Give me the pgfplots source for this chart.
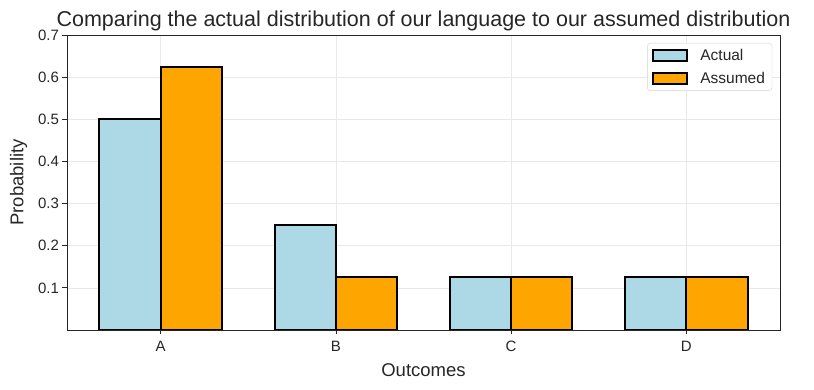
\documentclass[border=0pt]{standalone}
\usepackage{pgfplots}
\pgfplotsset{compat=1.18}
\usepackage{fontspec}
\setmainfont{Liberation Sans}
\definecolor{lightblue}{HTML}{ADD8E6}
\definecolor{orangec}{HTML}{FFA500}
\definecolor{txt}{HTML}{262626}
\definecolor{gridc}{HTML}{E8E8E8}
\begin{document}
\begin{tikzpicture}
\begin{axis}[
  scale only axis,
  width=713pt, height=295pt,
  xmin=-0.535, xmax=3.535,
  ymin=0, ymax=0.7,
  xtick={0,1,2,3},
  xticklabels={A,B,C,D},
  ytick={0.1,0.2,0.3,0.4,0.5,0.6,0.7},
  yticklabel style={/pgf/number format/fixed,/pgf/number format/precision=1},
  /pgf/number format/assume math mode=true,
  tick label style={font=\fontsize{15}{17}\selectfont, text=txt},
  xticklabel style={yshift=-3pt},
  xlabel={Outcomes}, ylabel={Probability},
  label style={font=\fontsize{18.5}{20}\selectfont, text=txt},
  xlabel style={yshift=-5pt},
  ylabel style={yshift=4pt},
  title={Comparing the actual distribution of our language to our assumed distribution},
  title style={font=\fontsize{21.5}{24}\selectfont, text=txt, yshift=-5pt},
  grid=major, major grid style={gridc, line width=0.7pt},
  axis line style={txt, line width=0.8pt},
  tick align=outside, tick pos=left,
  major tick length=4.5pt,
  tick style={txt, line width=0.8pt},
  legend style={at={(0.989,0.973)}, anchor=north east, draw=gridc!80!gray, rounded corners=3pt, font=\fontsize{15.5}{17}\selectfont, text=txt, row sep=6pt, inner xsep=5pt, inner ysep=4pt},
  legend cell align=left,
  ybar, bar width=0.35,
]
\addplot[fill=lightblue, draw=black, line width=2pt, bar shift=-0.175,
  legend image code/.code={\draw[sharp corners, fill=lightblue, draw=black, line width=2pt] (0pt,-5.5pt) rectangle (34pt,5.5pt); \path (44pt,0pt);}]
  coordinates {(0,0.5) (1,0.25) (2,0.125) (3,0.125)};
\addplot[fill=orangec, draw=black, line width=2pt, bar shift=0.175,
  legend image code/.code={\draw[sharp corners, fill=orangec, draw=black, line width=2pt] (0pt,-5.5pt) rectangle (34pt,5.5pt); \path (44pt,0pt);}]
  coordinates {(0,0.625) (1,0.125) (2,0.125) (3,0.125)};
\legend{Actual, Assumed}
\end{axis}
\pgfresetboundingbox
\useasboundingbox ([shift={(-67pt,-60pt)}]current axis.south west) rectangle ([shift={(34pt,35pt)}]current axis.north east);
\end{tikzpicture}
\end{document}
